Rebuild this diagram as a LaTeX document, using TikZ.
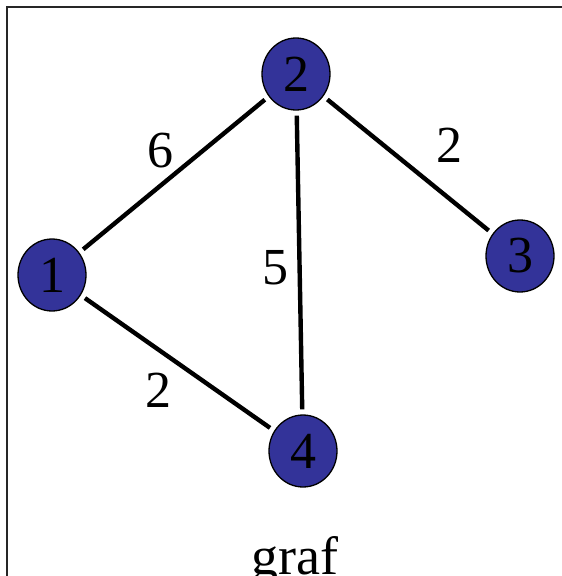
\documentclass[tikz,border=0pt]{standalone}
\usepackage{fontspec}
\setmainfont{Liberation Serif}
\usetikzlibrary{shapes.geometric}
\definecolor{vertexBlue}{RGB}{51,51,153}

\begin{document}
\begin{tikzpicture}[
    x=1pt, y=-1pt,
    font=\fontsize{52}{60}\selectfont,
    vertex/.style={ellipse, draw=black, line width=1.3pt, fill=vertexBlue, minimum width=68pt, minimum height=72pt, inner sep=0pt},
    edge/.style={line width=4.4pt, draw=black, shorten <=5pt, shorten >=5pt},
    weight/.style={inner sep=0pt}
  ]
    \useasboundingbox (0,0) rectangle (562,576);
    \begin{scope}
      \clip (0,0) rectangle (562,576);
      \draw[line width=1.4pt, draw=black!85] (7,7) rectangle (600,620);
    \end{scope}

    \node[vertex] (n1) at (52,275) {1};
    \node[vertex] (n2) at (296,74) {2};
    \node[vertex] (n3) at (520,256) {3};
    \node[vertex] (n4) at (303,451) {4};

    \draw[edge] (n1) -- node[weight, xshift=-14pt, yshift=24pt]{6} (n2);
    \draw[edge] (n2) -- node[weight, xshift=41pt, yshift=20pt]{2} (n3);
    \draw[edge] (n2) -- node[weight, xshift=-24pt, yshift=-5pt]{5} (n4);
    \draw[edge] (n1) -- node[weight, xshift=-19pt, yshift=-27pt]{2} (n4);

    \node[anchor=base, font=\fontsize{54}{62}\selectfont] (caption) at (295,574) {graf};
  \end{tikzpicture}
\end{document}
